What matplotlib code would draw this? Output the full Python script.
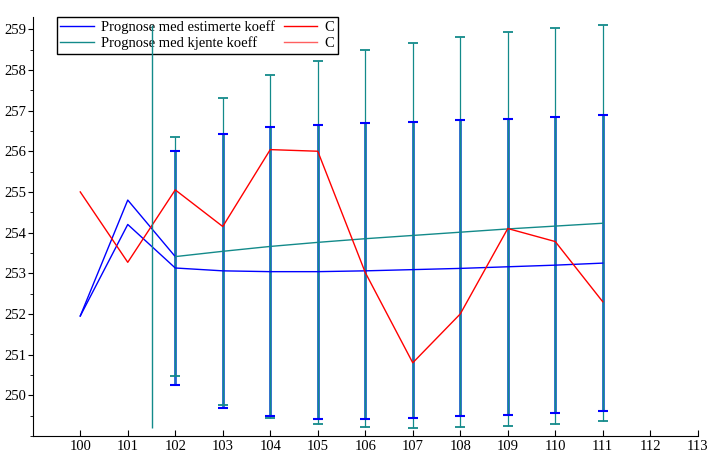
import numpy as np
import matplotlib
matplotlib.use("Agg")
import matplotlib.pyplot as plt
from matplotlib.ticker import MultipleLocator

plt.rcParams["font.family"] = ["Liberation Serif", "DejaVu Serif"]
plt.rcParams["font.size"] = 10.5

# time axis
t_all = [100, 101, 102, 103, 104, 105, 106, 107, 108, 109, 110, 111]
t_fc = t_all[2:]

# observed series C
c_obs = [255.0, 253.27, 255.05, 254.15, 256.04, 256.0, 253.02, 250.8, 252.0, 254.1, 253.78, 252.3]

# prognosis, estimated coefficients (blue)
est = [251.95, 254.2, 253.13, 253.06, 253.04, 253.04, 253.06, 253.09, 253.12, 253.16, 253.2, 253.25]
est_err = [2.88, 3.37, 3.55, 3.61, 3.64, 3.64, 3.64, 3.64, 3.64, 3.63]

# prognosis, known coefficients (teal)
kjent = [251.95, 254.8, 253.41, 253.54, 253.66, 253.76, 253.85, 253.93, 254.01, 254.09, 254.16, 254.23]
kjent_err = [2.94, 3.77, 4.21, 4.46, 4.63, 4.73, 4.79, 4.84, 4.86, 4.87]

# vertical marker
split_x = 101.5
split_lo, split_hi = 249.2, 259.1

BLUE = "blue"
TEAL = "#138a8a"
RED = "red"

fig = plt.figure(figsize=(7.12, 4.53), dpi=100)
ax = fig.add_axes([0.046, 0.0375, 0.934, 0.925])

# error bars
ax.errorbar(t_fc, est[2:], yerr=est_err, fmt="none", ecolor="#2462d2",
            elinewidth=2.0, capsize=0, zorder=2)
ax.errorbar(t_fc, kjent[2:], yerr=kjent_err, fmt="none", ecolor=TEAL,
            elinewidth=0.9, capsize=3.8, capthick=1.3, zorder=3)
# blue caps on top
ax.errorbar(t_fc, est[2:], yerr=est_err, fmt="none", ecolor=BLUE,
            elinewidth=0, capsize=3.8, capthick=1.5, zorder=4)

# lines
ax.plot(t_all, est, color=BLUE, lw=1, zorder=5, label="Prognose med estimerte koeff")
ax.plot(t_all[:3], kjent[:3], color=BLUE, lw=1, zorder=5)
ax.plot(t_fc, kjent[2:], color=TEAL, lw=1, zorder=5, label="Prognose med kjente koeff")
ax.plot(t_all, c_obs, color=RED, lw=1, zorder=6, label="C")
ax.plot([], [], color="#ff6060", lw=1, label="C")

ax.vlines(split_x, split_lo, split_hi, color=TEAL, lw=1, zorder=7)

ax.set_xlim(99, 113)
ax.set_ylim(249, 259.3)
ax.set_xticks(range(100, 114))
ax.set_yticks(range(250, 260))
ax.yaxis.set_minor_locator(MultipleLocator(0.5))

ax.spines["top"].set_visible(False)
ax.spines["right"].set_visible(False)
ax.tick_params(axis="x", direction="in", length=4, pad=3)
ax.tick_params(axis="y", which="major", direction="out", length=3.5, pad=1)
ax.tick_params(axis="y", which="minor", direction="out", length=2.5)

leg = ax.legend(ncol=2, loc="upper left", bbox_to_anchor=(0.036, 1.0),
                borderaxespad=0, frameon=True, fancybox=False,
                edgecolor="black", framealpha=1, handlelength=2.3,
                handletextpad=0.5, columnspacing=0.6, labelspacing=0.15,
                borderpad=0.25)
leg.get_frame().set_linewidth(1)
leg.set_zorder(1)

fig.savefig("out.png", dpi=100)
